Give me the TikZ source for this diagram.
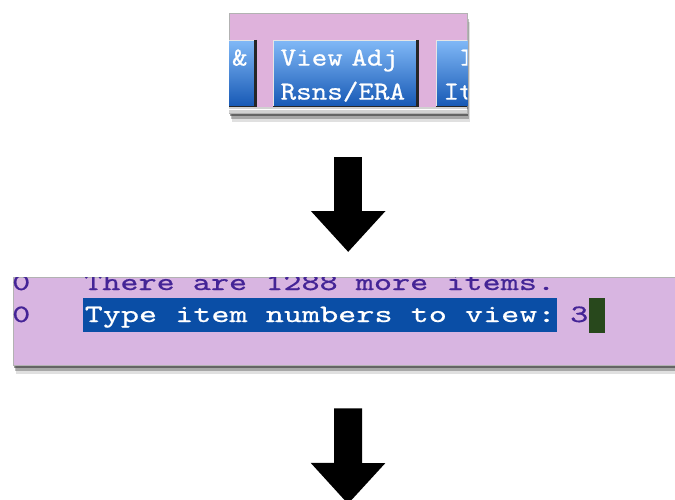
\documentclass[tikz,border=0pt]{standalone}
\usepackage{fontspec}
\newfontfamily\termfont{lmmono10-regular.otf}[FakeStretch=1.38, FakeBold=0.6]
\newfontfamily\btnfont{lmmono10-regular.otf}[FakeStretch=1.14, FakeBold=0.6]
\usetikzlibrary{arrows.meta,shadows}
\definecolor{menupink}{RGB}{223,178,220}
\definecolor{termlilac}{RGB}{216,181,225}
\definecolor{btntop}{RGB}{128,184,246}
\definecolor{btnbot}{RGB}{22,88,180}
\definecolor{termtext}{RGB}{68,36,150}
\definecolor{hiblue}{RGB}{10,78,166}
\definecolor{cursorgreen}{RGB}{40,72,28}
\newcommand\btop{\rule{0pt}{25pt}}
\newcommand\bbot{\rule[-7pt]{0pt}{7pt}}

\begin{document}
\begin{tikzpicture}[x=1pt,y=-1pt]

\tikzstyle{panel}=[rectangle, draw=gray!60, anchor=north west, inner sep=0pt,
  drop shadow={shadow xshift=1pt, shadow yshift=-3pt, opacity=.4, fill=black},
  drop shadow={shadow xshift=2pt, shadow yshift=-6pt, opacity=.25, fill=black},
  drop shadow={shadow xshift=3pt, shadow yshift=-9pt, opacity=.12, fill=black}]
\tikzstyle{button}=[rectangle, anchor=north west, top color=btntop, bottom color=btnbot,
  draw=white!80!gray, line width=1.2pt, minimum width=143pt, minimum height=66pt,
  inner xsep=7pt, inner ysep=0pt, text width=129pt, text=white, font=\btnfont\fontsize{26}{34}\selectfont]
\tikzstyle{edge}=[line width=3pt, black!85]
\tikzstyle{screen}=[anchor=base west, inner sep=0pt, text=termtext, font=\termfont\fontsize{25}{32}\selectfont]
\tikzstyle{arrow}=[line width=28pt, -{Triangle[width=72pt,length=41pt]}]

\useasboundingbox [fill=white] (0,0) rectangle (675,500);

% button bar
\node (A) [panel, fill=menupink, minimum width=238pt, minimum height=100pt] at (229,13) {};
\begin{scope}
\clip (A.north west) rectangle (A.south east);
\node (A1) [button, align=right] at (111,40) {\btop\&\\\bbot};
\node (A2) [button, align=left]  at (273,40) {\btop View Adj\\Rsns/ERA\bbot};
\node (A3) [button, align=left]  at (436,40) {\btop\hphantom{I}I\\It\bbot};
\draw [edge] (A1.north east) -- (A1.south east) -- (A1.south west);
\draw [edge] (A2.north east) -- (A2.south east) -- (A2.south west);
\draw [edge] (A3.south east) -- (A3.south west);
\fill [black!18] ([yshift=6pt]A.south west) rectangle (A.south east);
\draw [white, line width=1pt] ([yshift=4pt]A.south west) -- ([yshift=4pt]A.south east);
\end{scope}

% terminal
\node (B) [panel, fill=termlilac, minimum width=667pt, minimum height=88pt] at (13,277) {};
\begin{scope}
\clip (B.north west) rectangle (B.south east);
\node (B1) [screen] at (12,290) {0};
\node (B2) [screen] at (84,290) {There are 1288 more items.};
\node (B3) [screen] at (12,322) {0};
\node (B4) [screen, fill=hiblue, text=white, text height=24pt, text depth=10pt, inner xsep=1.5pt] at (83,322) {Type item numbers to view:};
\node (B5) [screen] at (570,322) {3};
\node (B6) [fill=cursorgreen, anchor=north west, minimum width=16pt, minimum height=35pt, inner sep=0pt] at (589,298) {};
\end{scope}

\coordinate (C) at (348,504);

\draw [arrow, shorten <=44pt, shorten >=25pt] (A.south) -- (A.south |- B.north);
\draw [arrow, shorten <=43pt] (A.south |- B.south) -- (C);

\end{tikzpicture}
\end{document}
